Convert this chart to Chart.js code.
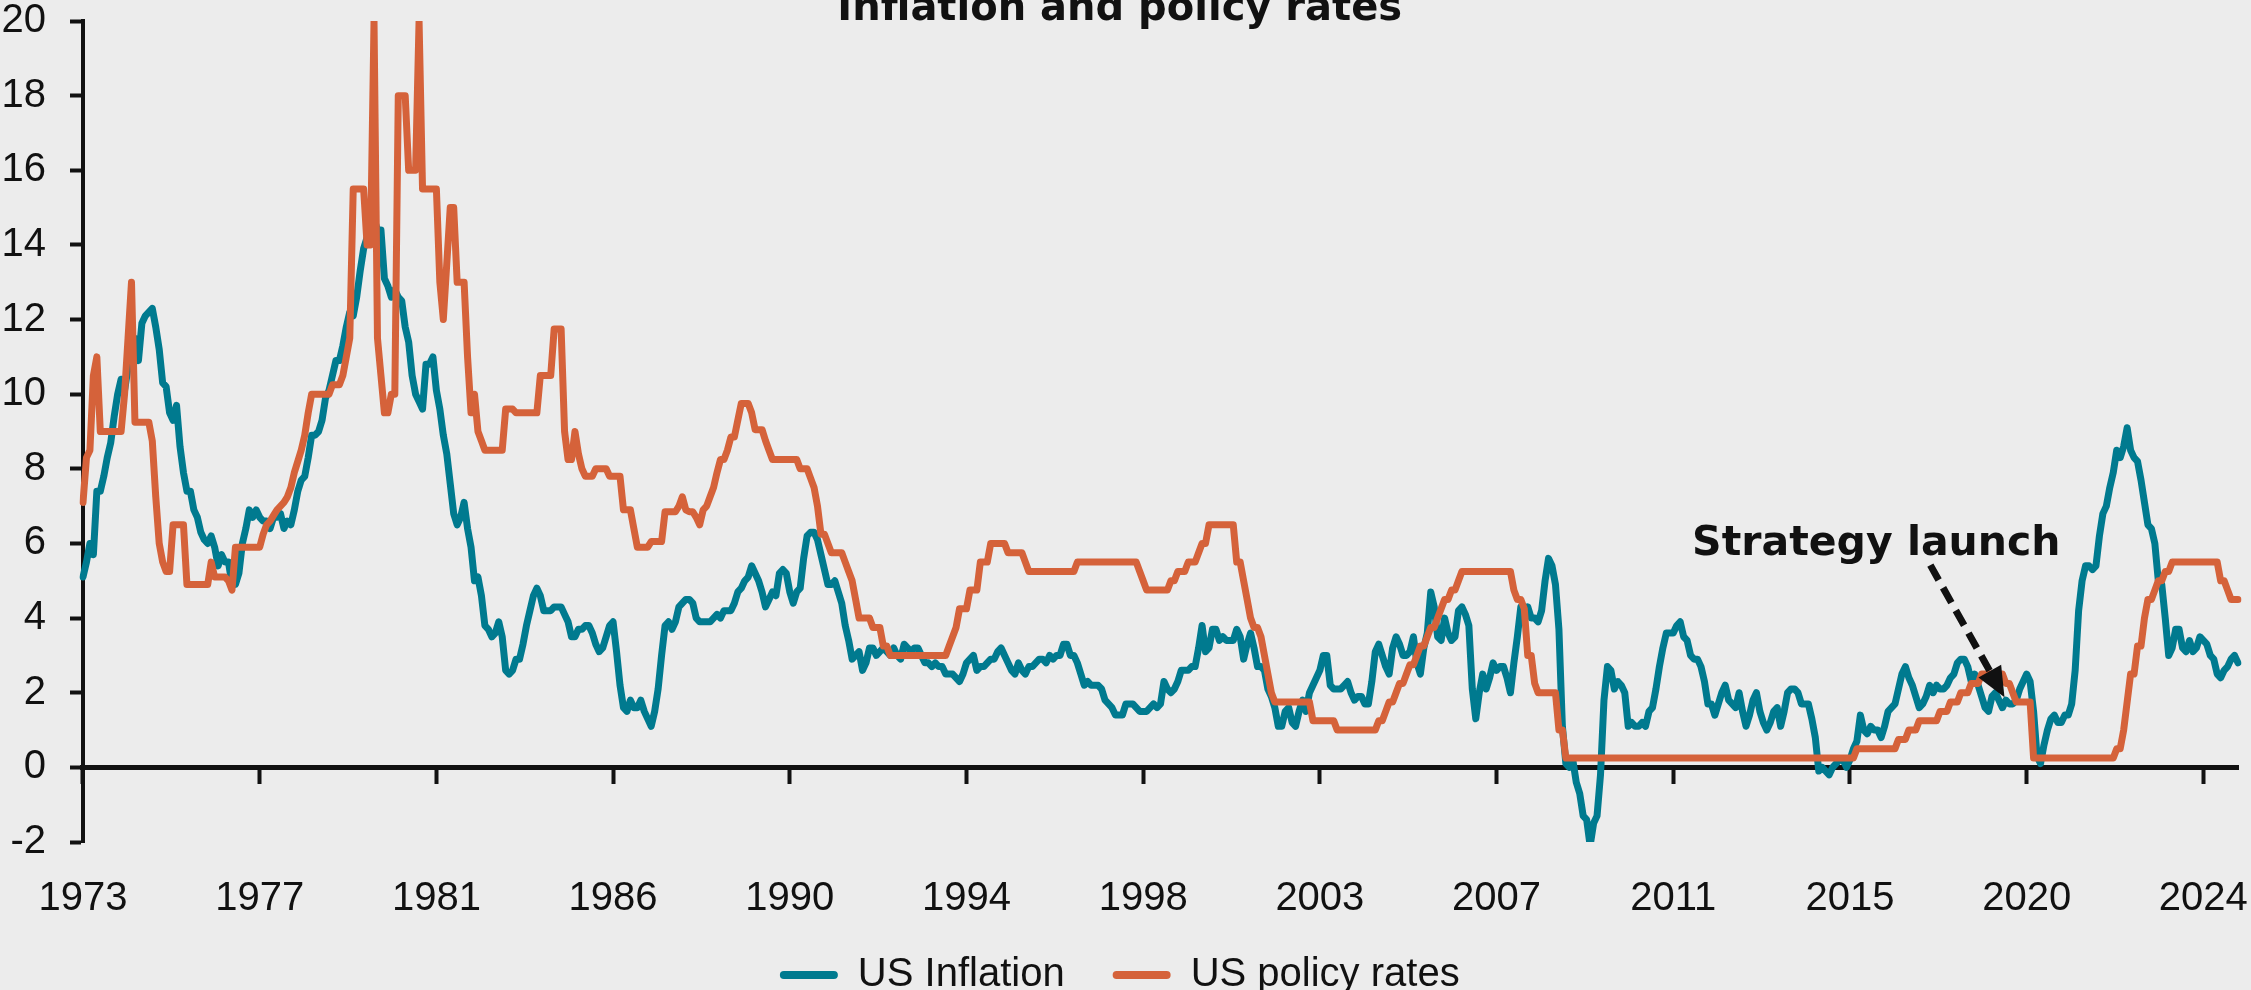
<!DOCTYPE html>
<html>
<head>
<meta charset="utf-8">
<script src="https://cdn.jsdelivr.net/npm/chart.js@4.4.1/dist/chart.umd.min.js"></script>
<style>
  html, body { margin: 0; padding: 0; background: #ececec; overflow: hidden; width: 2251px; height: 990px; }
  #wrap { position: absolute; left: 0; top: 0; width: 2251px; height: 1005px; }
  canvas { display: block; }
</style>
</head>
<body>
<div id="wrap"><canvas id="c" width="2251" height="1005" style="width:2251px;height:1005px"></canvas></div>
<script>
// ---------------- DATA (monthly, Apr 1973 – Feb 2025) ----------------
const START_YEAR = 1973;
const START_MONTH = 4;
const TICK_STEP = 51; // one axis label every 51 months
const tickYears = ['1973','1977','1981','1986','1990','1994','1998','2003','2007','2011','2015','2020','2024'];
const seriesNames = ['US Inflation', 'US policy rates'];

const inflation = [
  5.1, 5.5, 6.0, 5.7, 7.4, 7.4, 7.8, 8.3, 8.7,
  9.4, 10.0, 10.4, 10.1, 10.7, 10.9, 11.5, 10.9, 11.9, 12.1, 12.2, 12.3,
  11.8, 11.2, 10.3, 10.2, 9.5, 9.3, 9.7, 8.6, 7.9, 7.4, 7.4, 6.9,
  6.7, 6.3, 6.1, 6.0, 6.2, 5.9, 5.4, 5.7, 5.5, 5.5, 4.9, 4.9,
  5.2, 6.0, 6.4, 6.9, 6.7, 6.9, 6.7, 6.6, 6.6, 6.4, 6.7, 6.7,
  6.8, 6.4, 6.6, 6.5, 6.9, 7.4, 7.7, 7.8, 8.3, 8.9, 8.9, 9.0,
  9.3, 9.9, 10.1, 10.5, 10.9, 10.9, 11.3, 11.8, 12.2, 12.1, 12.6, 13.3,
  13.9, 14.2, 14.8, 14.7, 14.4, 14.4, 13.1, 12.9, 12.6, 12.8, 12.6, 12.5,
  11.8, 11.4, 10.5, 10.0, 9.8, 9.6, 10.8, 10.8, 11.0, 10.1, 9.6, 8.9,
  8.4, 7.6, 6.8, 6.5, 6.7, 7.1, 6.4, 5.9, 5.0, 5.1, 4.6, 3.8,
  3.7, 3.5, 3.6, 3.9, 3.5, 2.6, 2.5, 2.6, 2.9, 2.9, 3.3, 3.8,
  4.2, 4.6, 4.8, 4.6, 4.2, 4.2, 4.2, 4.3, 4.3, 4.3, 4.1, 3.9,
  3.5, 3.5, 3.7, 3.7, 3.8, 3.8, 3.6, 3.3, 3.1, 3.2, 3.5, 3.8,
  3.9, 3.1, 2.2, 1.6, 1.5, 1.8, 1.6, 1.6, 1.8, 1.5, 1.3, 1.1,
  1.5, 2.1, 3.0, 3.8, 3.9, 3.7, 3.9, 4.3, 4.4, 4.5, 4.5, 4.4,
  4.0, 3.9, 3.9, 3.9, 3.9, 4.0, 4.1, 4.0, 4.2, 4.2, 4.2, 4.4,
  4.7, 4.8, 5.0, 5.1, 5.4, 5.2, 5.0, 4.7, 4.3, 4.5, 4.7, 4.6,
  5.2, 5.3, 5.2, 4.7, 4.4, 4.7, 4.8, 5.6, 6.2, 6.3, 6.3, 6.1,
  5.7, 5.3, 4.9, 4.9, 5.0, 4.7, 4.4, 3.8, 3.4, 2.9, 3.0, 3.1,
  2.6, 2.8, 3.2, 3.2, 3.0, 3.1, 3.2, 3.1, 3.0, 3.2, 3.0, 2.9,
  3.3, 3.2, 3.1, 3.2, 3.2, 3.0, 2.8, 2.8, 2.7, 2.8, 2.7, 2.7,
  2.5, 2.5, 2.5, 2.4, 2.3, 2.5, 2.8, 2.9, 3.0, 2.6, 2.7, 2.7,
  2.8, 2.9, 2.9, 3.1, 3.2, 3.0, 2.8, 2.6, 2.5, 2.8, 2.6, 2.5,
  2.7, 2.7, 2.8, 2.9, 2.9, 2.8, 3.0, 2.9, 3.0, 3.0, 3.3, 3.3,
  3.0, 3.0, 2.8, 2.5, 2.2, 2.3, 2.2, 2.2, 2.2, 2.1, 1.8, 1.7,
  1.6, 1.4, 1.4, 1.4, 1.7, 1.7, 1.7, 1.6, 1.5, 1.5, 1.5, 1.6,
  1.7, 1.6, 1.7, 2.3, 2.1, 2.0, 2.1, 2.3, 2.6, 2.6, 2.6, 2.7,
  2.7, 3.2, 3.8, 3.1, 3.2, 3.7, 3.7, 3.4, 3.5, 3.4, 3.4, 3.4,
  3.7, 3.5, 2.9, 3.3, 3.6, 3.2, 2.7, 2.7, 2.6, 2.1, 1.9, 1.6,
  1.1, 1.1, 1.5, 1.6, 1.2, 1.1, 1.5, 1.8, 1.5, 2.0, 2.2, 2.4,
  2.6, 3.0, 3.0, 2.2, 2.1, 2.1, 2.1, 2.2, 2.3, 2.0, 1.8, 1.9,
  1.9, 1.7, 1.7, 2.3, 3.1, 3.3, 3.0, 2.7, 2.5, 3.2, 3.5, 3.3,
  3.0, 3.0, 3.1, 3.5, 2.8, 2.5, 3.2, 3.6, 4.7, 4.3, 3.5, 3.4,
  4.0, 3.6, 3.4, 3.5, 4.2, 4.3, 4.1, 3.8, 2.1, 1.3, 2.0, 2.5,
  2.1, 2.4, 2.8, 2.6, 2.7, 2.7, 2.4, 2.0, 2.8, 3.5, 4.3, 4.1,
  4.3, 4.0, 4.0, 3.9, 4.2, 5.0, 5.6, 5.4, 4.9, 3.7, 1.1, 0.1,
  0.0, 0.2, -0.4, -0.7, -1.3, -1.4, -2.1, -1.5, -1.3, -0.2, 1.8, 2.7,
  2.6, 2.1, 2.3, 2.2, 2.0, 1.1, 1.2, 1.1, 1.1, 1.2, 1.1, 1.5,
  1.6, 2.1, 2.7, 3.2, 3.6, 3.6, 3.6, 3.8, 3.9, 3.5, 3.4, 3.0,
  2.9, 2.9, 2.7, 2.3, 1.7, 1.7, 1.4, 1.7, 2.0, 2.2, 1.8, 1.7,
  1.6, 2.0, 1.5, 1.1, 1.4, 1.8, 2.0, 1.5, 1.2, 1.0, 1.2, 1.5,
  1.6, 1.1, 1.5, 2.0, 2.1, 2.1, 2.0, 1.7, 1.7, 1.7, 1.3, 0.8,
  -0.1, 0.0, -0.1, -0.2, 0.0, 0.1, 0.2, 0.2, 0.0, 0.2, 0.5, 0.7,
  1.4, 1.0, 0.9, 1.1, 1.0, 1.0, 0.8, 1.1, 1.5, 1.6, 1.7, 2.1,
  2.5, 2.7, 2.4, 2.2, 1.9, 1.6, 1.7, 1.9, 2.2, 2.0, 2.2, 2.1,
  2.1, 2.2, 2.4, 2.5, 2.8, 2.9, 2.9, 2.7, 2.3, 2.5, 2.2, 1.9,
  1.6, 1.5, 1.9, 2.0, 1.8, 1.6, 1.8, 1.7, 1.7, 1.8, 2.1, 2.3,
  2.5, 2.3, 1.5, 0.3, 0.1, 0.6, 1.0, 1.3, 1.4, 1.2, 1.2, 1.4,
  1.4, 1.7, 2.6, 4.2, 5.0, 5.4, 5.4, 5.3, 5.4, 6.2, 6.8, 7.0,
  7.5, 7.9, 8.5, 8.3, 8.6, 9.1, 8.5, 8.3, 8.2, 7.7, 7.1, 6.5,
  6.4, 6.0, 5.0, 4.9, 4.0, 3.0, 3.2, 3.7, 3.7, 3.2, 3.1, 3.4,
  3.1, 3.2, 3.5, 3.4, 3.3, 3.0, 2.9, 2.5, 2.4, 2.6, 2.7, 2.9,
  3.0, 2.8
];

const policyRate = [
  7.1, 8.3, 8.5, 10.5, 11.0, 9.0, 9.0, 9.0, 9.0,
  9.0, 9.0, 9.0, 10.0, 11.5, 13.0, 9.25, 9.25, 9.25, 9.25, 9.25, 8.75,
  7.25, 6.0, 5.5, 5.25, 5.25, 6.5, 6.5, 6.5, 6.5, 4.9, 4.9, 4.9,
  4.9, 4.9, 4.9, 4.9, 5.5, 5.1, 5.1, 5.1, 5.1, 5.0, 4.75, 5.9,
  5.9, 5.9, 5.9, 5.9, 5.9, 5.9, 5.9, 6.25, 6.5, 6.6, 6.75, 6.9,
  7.0, 7.1, 7.25, 7.5, 7.9, 8.2, 8.5, 8.9, 9.5, 10.0, 10.0, 10.0,
  10.0, 10.0, 10.0, 10.25, 10.25, 10.25, 10.5, 11.0, 11.5, 15.5, 15.5, 15.5,
  15.5, 14.0, 14.0, 20.0, 11.5, 10.5, 9.5, 9.5, 10.0, 10.0, 18.0, 18.0,
  18.0, 16.0, 16.0, 16.0, 20.0, 15.5, 15.5, 15.5, 15.5, 15.5, 13.0, 12.0,
  13.5, 15.0, 15.0, 13.0, 13.0, 13.0, 11.0, 9.5, 10.0, 9.0, 8.75, 8.5,
  8.5, 8.5, 8.5, 8.5, 8.5, 9.6, 9.6, 9.6, 9.5, 9.5, 9.5, 9.5,
  9.5, 9.5, 9.5, 10.5, 10.5, 10.5, 10.5, 11.75, 11.75, 11.75, 9.0, 8.25,
  8.25, 9.0, 8.4, 8.0, 7.8, 7.8, 7.8, 8.0, 8.0, 8.0, 8.0, 7.8,
  7.8, 7.8, 7.8, 6.9, 6.9, 6.9, 6.4, 5.9, 5.9, 5.9, 5.9, 6.05,
  6.05, 6.05, 6.05, 6.85, 6.85, 6.85, 6.85, 7.0, 7.25, 6.9, 6.85, 6.85,
  6.7, 6.5, 6.9, 7.0, 7.25, 7.5, 7.9, 8.25, 8.25, 8.5, 8.85, 8.85,
  9.3, 9.75, 9.75, 9.75, 9.5, 9.05, 9.05, 9.05, 8.75, 8.5, 8.25, 8.25,
  8.25, 8.25, 8.25, 8.25, 8.25, 8.25, 8.0, 8.0, 8.0, 7.75, 7.5, 7.0,
  6.25, 6.25, 6.0, 5.75, 5.75, 5.75, 5.75, 5.5, 5.25, 5.0, 4.5, 4.0,
  4.0, 4.0, 4.0, 3.75, 3.75, 3.75, 3.25, 3.25, 3.0, 3.0, 3.0, 3.0,
  3.0, 3.0, 3.0, 3.0, 3.0, 3.0, 3.0, 3.0, 3.0, 3.0, 3.0, 3.0,
  3.0, 3.25, 3.5, 3.75, 4.25, 4.25, 4.25, 4.75, 4.75, 4.75, 5.5, 5.5,
  5.5, 6.0, 6.0, 6.0, 6.0, 6.0, 5.75, 5.75, 5.75, 5.75, 5.75, 5.5,
  5.25, 5.25, 5.25, 5.25, 5.25, 5.25, 5.25, 5.25, 5.25, 5.25, 5.25, 5.25,
  5.25, 5.25, 5.5, 5.5, 5.5, 5.5, 5.5, 5.5, 5.5, 5.5, 5.5, 5.5,
  5.5, 5.5, 5.5, 5.5, 5.5, 5.5, 5.5, 5.5, 5.25, 5.0, 4.75, 4.75,
  4.75, 4.75, 4.75, 4.75, 4.75, 5.0, 5.0, 5.25, 5.25, 5.25, 5.5, 5.5,
  5.5, 5.75, 6.0, 6.0, 6.5, 6.5, 6.5, 6.5, 6.5, 6.5, 6.5, 6.5,
  5.5, 5.5, 5.0, 4.5, 4.0, 3.75, 3.75, 3.5, 3.0, 2.5, 2.0, 1.75,
  1.75, 1.75, 1.75, 1.75, 1.75, 1.75, 1.75, 1.75, 1.75, 1.75, 1.25, 1.25,
  1.25, 1.25, 1.25, 1.25, 1.25, 1.0, 1.0, 1.0, 1.0, 1.0, 1.0, 1.0,
  1.0, 1.0, 1.0, 1.0, 1.0, 1.25, 1.25, 1.5, 1.75, 1.75, 2.0, 2.25,
  2.25, 2.5, 2.75, 2.75, 3.0, 3.25, 3.25, 3.5, 3.75, 3.75, 4.0, 4.25,
  4.5, 4.5, 4.75, 4.75, 5.0, 5.25, 5.25, 5.25, 5.25, 5.25, 5.25, 5.25,
  5.25, 5.25, 5.25, 5.25, 5.25, 5.25, 5.25, 5.25, 4.75, 4.5, 4.5, 4.25,
  3.0, 3.0, 2.25, 2.0, 2.0, 2.0, 2.0, 2.0, 2.0, 1.0, 1.0, 0.25,
  0.25, 0.25, 0.25, 0.25, 0.25, 0.25, 0.25, 0.25, 0.25, 0.25, 0.25, 0.25,
  0.25, 0.25, 0.25, 0.25, 0.25, 0.25, 0.25, 0.25, 0.25, 0.25, 0.25, 0.25,
  0.25, 0.25, 0.25, 0.25, 0.25, 0.25, 0.25, 0.25, 0.25, 0.25, 0.25, 0.25,
  0.25, 0.25, 0.25, 0.25, 0.25, 0.25, 0.25, 0.25, 0.25, 0.25, 0.25, 0.25,
  0.25, 0.25, 0.25, 0.25, 0.25, 0.25, 0.25, 0.25, 0.25, 0.25, 0.25, 0.25,
  0.25, 0.25, 0.25, 0.25, 0.25, 0.25, 0.25, 0.25, 0.25, 0.25, 0.25, 0.25,
  0.25, 0.25, 0.25, 0.25, 0.25, 0.25, 0.25, 0.25, 0.25, 0.25, 0.25, 0.5,
  0.5, 0.5, 0.5, 0.5, 0.5, 0.5, 0.5, 0.5, 0.5, 0.5, 0.5, 0.75,
  0.75, 0.75, 1.0, 1.0, 1.0, 1.25, 1.25, 1.25, 1.25, 1.25, 1.25, 1.5,
  1.5, 1.5, 1.75, 1.75, 1.75, 2.0, 2.0, 2.0, 2.25, 2.25, 2.25, 2.5,
  2.5, 2.5, 2.5, 2.5, 2.5, 2.5, 2.25, 2.25, 2.0, 1.75, 1.75, 1.75,
  1.75, 1.75, 0.25, 0.25, 0.25, 0.25, 0.25, 0.25, 0.25, 0.25, 0.25, 0.25,
  0.25, 0.25, 0.25, 0.25, 0.25, 0.25, 0.25, 0.25, 0.25, 0.25, 0.25, 0.25,
  0.25, 0.25, 0.5, 0.5, 1.0, 1.75, 2.5, 2.5, 3.25, 3.25, 4.0, 4.5,
  4.5, 4.75, 5.0, 5.0, 5.25, 5.25, 5.5, 5.5, 5.5, 5.5, 5.5, 5.5,
  5.5, 5.5, 5.5, 5.5, 5.5, 5.5, 5.5, 5.5, 5.0, 5.0, 4.75, 4.5,
  4.5, 4.5
];

// category labels (one per month)
const monthLabels = [];
for (let k = 0; k < inflation.length; k++) {
  const m = START_MONTH - 1 + k;
  monthLabels.push(String(START_YEAR + Math.floor(m / 12)) + '-' + String((m % 12) + 1).padStart(2, '0'));
}

// annotation, in data coordinates (month index, percent)
const annotation = {
  text: 'Strategy launch',
  textAt: [517.6, 5.68],
  arrowFrom: [533.2, 5.42],
  arrowTo: [554.6, 1.88]
};

// ---------------- STYLE ----------------
const TEAL = '#007A8F';
const ORANGE = '#D5623A';
const INK = '#111111';
const LINE_W = 7;
const LABEL_FONT = { family: '"Liberation Sans", Arial, sans-serif', size: 40, lineHeight: 1 };

const strategyPlugin = {
  id: 'strategyLaunch',
  afterDatasetsDraw(chart) {
    const ctx = chart.ctx, xs = chart.scales.x, ys = chart.scales.y;
    const x1 = xs.getPixelForValue(annotation.arrowFrom[0]), y1 = ys.getPixelForValue(annotation.arrowFrom[1]);
    const x2 = xs.getPixelForValue(annotation.arrowTo[0]), y2 = ys.getPixelForValue(annotation.arrowTo[1]);
    const ang = Math.atan2(y2 - y1, x2 - x1);
    const headLen = 30, headHalf = 13;
    const bx = x2 - headLen * Math.cos(ang), by = y2 - headLen * Math.sin(ang);
    ctx.save();
    ctx.strokeStyle = INK;
    ctx.lineWidth = 7;
    ctx.setLineDash([17, 9]);
    ctx.beginPath();
    ctx.moveTo(x1, y1);
    ctx.lineTo(bx, by);
    ctx.stroke();
    ctx.setLineDash([]);
    ctx.fillStyle = INK;
    ctx.beginPath();
    ctx.moveTo(x2, y2);
    ctx.lineTo(bx + headHalf * Math.sin(ang), by - headHalf * Math.cos(ang));
    ctx.lineTo(bx - headHalf * Math.sin(ang), by + headHalf * Math.cos(ang));
    ctx.closePath();
    ctx.fill();
    ctx.font = 'bold 41px "DejaVu Sans"';
    ctx.textAlign = 'center';
    ctx.textBaseline = 'alphabetic';
    ctx.fillText(annotation.text, xs.getPixelForValue(annotation.textAt[0]), ys.getPixelForValue(annotation.textAt[1]));
    ctx.restore();
  }
};

const noPadding = (s) => { s.paddingLeft = 0; s.paddingRight = 0; s.paddingTop = 0; s.paddingBottom = 0; };

new Chart(document.getElementById('c'), {
  type: 'line',
  data: {
    labels: monthLabels,
    datasets: [
      { label: seriesNames[0], data: inflation, borderColor: TEAL, backgroundColor: TEAL,
        borderWidth: LINE_W, pointRadius: 0, tension: 0, borderJoinStyle: 'round', borderCapStyle: 'round', order: 2 },
      { label: seriesNames[1], data: policyRate, borderColor: ORANGE, backgroundColor: ORANGE,
        borderWidth: LINE_W, pointRadius: 0, tension: 0, borderJoinStyle: 'round', borderCapStyle: 'round', order: 1 }
    ]
  },
  options: {
    responsive: false,
    animation: false,
    devicePixelRatio: 1,
    layout: { padding: { left: 1.5, right: 13, top: 0, bottom: 0 } },
    scales: {
      // main category axis (spacer below the plot; labels are drawn by the zero-line axis)
      x: {
        type: 'category',
        position: 'bottom',
        grid: { display: false, drawTicks: false },
        border: { display: false },
        ticks: { display: false },
        afterFit: (s) => { s.height = 65; noPadding(s); }
      },
      // axis line at y = 0 with outward tick marks and the year labels (labels sit low)
      x0: {
        type: 'category',
        axis: 'x',
        position: { y: 0 },
        grid: {
          display: true, drawOnChartArea: false, drawTicks: true, tickLength: 14,
          tickWidth: 4,
          tickColor: (c) => (c.index % TICK_STEP === 0 ? INK : 'rgba(0,0,0,0)')
        },
        border: { display: true, color: INK, width: 5 },
        ticks: {
          display: true, autoSkip: false, maxRotation: 0, minRotation: 0, padding: 98,
          color: INK, font: LABEL_FONT,
          callback: (v, i) => (i % TICK_STEP === 0 ? tickYears[i / TICK_STEP] : '')
        },
        afterFit: noPadding
      },
      y: {
        position: 'left',
        min: -2, max: 20,
        ticks: { stepSize: 2, padding: 24, color: INK, font: LABEL_FONT },
        grid: { display: true, drawOnChartArea: false, drawTicks: true, tickLength: 13, tickWidth: 4, tickColor: INK },
        border: { display: true, color: INK, width: 4 },
        afterFit: (s) => { s.width -= s.options.ticks.padding; s.paddingTop = 0; s.paddingBottom = 0; }
      }
    },
    plugins: {
      title: {
        display: true,
        text: 'Inflation and policy rates',
        color: INK,
        font: { family: '"DejaVu Sans"', weight: 'bold', size: 40, lineHeight: 0.5 },
        padding: { top: 0, bottom: 1 }
      },
      legend: {
        position: 'bottom',
        align: 'center',
        labels: {
          font: LABEL_FONT,
          color: INK,
          boxWidth: 58,
          boxHeight: 8,
          padding: 48,
          useBorderRadius: true,
          borderRadius: 4,
          generateLabels: (chart) => chart.data.datasets.map((ds, i) => ({
            text: ds.label, fillStyle: ds.borderColor, strokeStyle: ds.borderColor,
            lineWidth: 0, datasetIndex: i, hidden: false, fontColor: INK, borderRadius: 4
          }))
        }
      },
      tooltip: { enabled: false }
    }
  },
  plugins: [strategyPlugin]
});
</script>
</body>
</html>
